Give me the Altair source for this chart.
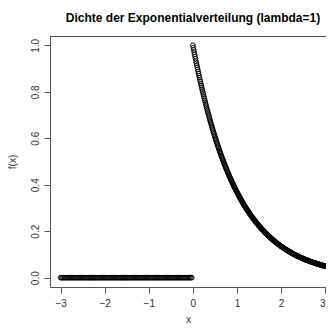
import altair as alt
import pandas as pd

# x < 0 : density is 0
x_neg = [-3.000, -2.975, -2.950, -2.925, -2.900, -2.875, -2.850, -2.825, -2.800, -2.775,
         -2.750, -2.725, -2.700, -2.675, -2.650, -2.625, -2.600, -2.575, -2.550, -2.525,
         -2.500, -2.475, -2.450, -2.425, -2.400, -2.375, -2.350, -2.325, -2.300, -2.275,
         -2.250, -2.225, -2.200, -2.175, -2.150, -2.125, -2.100, -2.075, -2.050, -2.025,
         -2.000, -1.975, -1.950, -1.925, -1.900, -1.875, -1.850, -1.825, -1.800, -1.775,
         -1.750, -1.725, -1.700, -1.675, -1.650, -1.625, -1.600, -1.575, -1.550, -1.525,
         -1.500, -1.475, -1.450, -1.425, -1.400, -1.375, -1.350, -1.325, -1.300, -1.275,
         -1.250, -1.225, -1.200, -1.175, -1.150, -1.125, -1.100, -1.075, -1.050, -1.025,
         -1.000, -0.975, -0.950, -0.925, -0.900, -0.875, -0.850, -0.825, -0.800, -0.775,
         -0.750, -0.725, -0.700, -0.675, -0.650, -0.625, -0.600, -0.575, -0.550, -0.525,
         -0.500, -0.475, -0.450, -0.425, -0.400, -0.375, -0.350, -0.325, -0.300, -0.275,
         -0.250, -0.225, -0.200, -0.175, -0.150, -0.125, -0.100, -0.075, -0.050, -0.025]
y_neg = [0.0, 0.0, 0.0, 0.0, 0.0, 0.0, 0.0, 0.0, 0.0, 0.0,
         0.0, 0.0, 0.0, 0.0, 0.0, 0.0, 0.0, 0.0, 0.0, 0.0,
         0.0, 0.0, 0.0, 0.0, 0.0, 0.0, 0.0, 0.0, 0.0, 0.0,
         0.0, 0.0, 0.0, 0.0, 0.0, 0.0, 0.0, 0.0, 0.0, 0.0,
         0.0, 0.0, 0.0, 0.0, 0.0, 0.0, 0.0, 0.0, 0.0, 0.0,
         0.0, 0.0, 0.0, 0.0, 0.0, 0.0, 0.0, 0.0, 0.0, 0.0,
         0.0, 0.0, 0.0, 0.0, 0.0, 0.0, 0.0, 0.0, 0.0, 0.0,
         0.0, 0.0, 0.0, 0.0, 0.0, 0.0, 0.0, 0.0, 0.0, 0.0,
         0.0, 0.0, 0.0, 0.0, 0.0, 0.0, 0.0, 0.0, 0.0, 0.0,
         0.0, 0.0, 0.0, 0.0, 0.0, 0.0, 0.0, 0.0, 0.0, 0.0,
         0.0, 0.0, 0.0, 0.0, 0.0, 0.0, 0.0, 0.0, 0.0, 0.0,
         0.0, 0.0, 0.0, 0.0, 0.0, 0.0, 0.0, 0.0, 0.0, 0.0]

# x >= 0, even hundredths
x_pos = [0.00, 0.02, 0.04, 0.06, 0.08, 0.10, 0.12, 0.14, 0.16, 0.18,
         0.20, 0.22, 0.24, 0.26, 0.28, 0.30, 0.32, 0.34, 0.36, 0.38,
         0.40, 0.42, 0.44, 0.46, 0.48, 0.50, 0.52, 0.54, 0.56, 0.58,
         0.60, 0.62, 0.64, 0.66, 0.68, 0.70, 0.72, 0.74, 0.76, 0.78,
         0.80, 0.82, 0.84, 0.86, 0.88, 0.90, 0.92, 0.94, 0.96, 0.98,
         1.00, 1.02, 1.04, 1.06, 1.08, 1.10, 1.12, 1.14, 1.16, 1.18,
         1.20, 1.22, 1.24, 1.26, 1.28, 1.30, 1.32, 1.34, 1.36, 1.38,
         1.40, 1.42, 1.44, 1.46, 1.48, 1.50, 1.52, 1.54, 1.56, 1.58,
         1.60, 1.62, 1.64, 1.66, 1.68, 1.70, 1.72, 1.74, 1.76, 1.78,
         1.80, 1.82, 1.84, 1.86, 1.88, 1.90, 1.92, 1.94, 1.96, 1.98,
         2.00, 2.02, 2.04, 2.06, 2.08, 2.10, 2.12, 2.14, 2.16, 2.18,
         2.20, 2.22, 2.24, 2.26, 2.28, 2.30, 2.32, 2.34, 2.36, 2.38,
         2.40, 2.42, 2.44, 2.46, 2.48, 2.50, 2.52, 2.54, 2.56, 2.58,
         2.60, 2.62, 2.64, 2.66, 2.68, 2.70, 2.72, 2.74, 2.76, 2.78,
         2.80, 2.82, 2.84, 2.86, 2.88, 2.90, 2.92, 2.94, 2.96, 2.98,
         3.00]
y_pos = [1.000, 0.980, 0.961, 0.942, 0.923, 0.905, 0.887, 0.869, 0.852, 0.835,
         0.819, 0.803, 0.787, 0.771, 0.756, 0.741, 0.726, 0.712, 0.698, 0.684,
         0.670, 0.657, 0.644, 0.631, 0.619, 0.607, 0.595, 0.583, 0.571, 0.560,
         0.549, 0.538, 0.527, 0.517, 0.507, 0.497, 0.487, 0.477, 0.468, 0.458,
         0.449, 0.440, 0.432, 0.423, 0.415, 0.407, 0.399, 0.391, 0.383, 0.375,
         0.368, 0.361, 0.353, 0.346, 0.340, 0.333, 0.326, 0.320, 0.313, 0.307,
         0.301, 0.295, 0.289, 0.284, 0.278, 0.273, 0.267, 0.262, 0.257, 0.252,
         0.247, 0.242, 0.237, 0.232, 0.228, 0.223, 0.219, 0.214, 0.210, 0.206,
         0.202, 0.198, 0.194, 0.190, 0.186, 0.183, 0.179, 0.176, 0.172, 0.169,
         0.165, 0.162, 0.159, 0.156, 0.153, 0.150, 0.147, 0.144, 0.141, 0.138,
         0.135, 0.133, 0.130, 0.127, 0.125, 0.122, 0.120, 0.118, 0.115, 0.113,
         0.111, 0.109, 0.106, 0.104, 0.102, 0.100, 0.098, 0.096, 0.094, 0.093,
         0.091, 0.089, 0.087, 0.085, 0.084, 0.082, 0.080, 0.079, 0.077, 0.076,
         0.074, 0.073, 0.071, 0.070, 0.069, 0.067, 0.066, 0.065, 0.063, 0.062,
         0.061, 0.060, 0.058, 0.057, 0.056, 0.055, 0.054, 0.053, 0.052, 0.051,
         0.050]

# x >= 0, odd hundredths
x_pos2 = [0.01, 0.03, 0.05, 0.07, 0.09, 0.11, 0.13, 0.15, 0.17, 0.19,
          0.21, 0.23, 0.25, 0.27, 0.29, 0.31, 0.33, 0.35, 0.37, 0.39,
          0.41, 0.43, 0.45, 0.47, 0.49, 0.51, 0.53, 0.55, 0.57, 0.59,
          0.61, 0.63, 0.65, 0.67, 0.69, 0.71, 0.73, 0.75, 0.77, 0.79,
          0.81, 0.83, 0.85, 0.87, 0.89, 0.91, 0.93, 0.95, 0.97, 0.99,
          1.01, 1.03, 1.05, 1.07, 1.09, 1.11, 1.13, 1.15, 1.17, 1.19,
          1.21, 1.23, 1.25, 1.27, 1.29, 1.31, 1.33, 1.35, 1.37, 1.39,
          1.41, 1.43, 1.45, 1.47, 1.49, 1.51, 1.53, 1.55, 1.57, 1.59,
          1.61, 1.63, 1.65, 1.67, 1.69, 1.71, 1.73, 1.75, 1.77, 1.79,
          1.81, 1.83, 1.85, 1.87, 1.89, 1.91, 1.93, 1.95, 1.97, 1.99,
          2.01, 2.03, 2.05, 2.07, 2.09, 2.11, 2.13, 2.15, 2.17, 2.19,
          2.21, 2.23, 2.25, 2.27, 2.29, 2.31, 2.33, 2.35, 2.37, 2.39,
          2.41, 2.43, 2.45, 2.47, 2.49, 2.51, 2.53, 2.55, 2.57, 2.59,
          2.61, 2.63, 2.65, 2.67, 2.69, 2.71, 2.73, 2.75, 2.77, 2.79,
          2.81, 2.83, 2.85, 2.87, 2.89, 2.91, 2.93, 2.95, 2.97, 2.99]
y_pos2 = [0.990, 0.970, 0.951, 0.932, 0.914, 0.896, 0.878, 0.861, 0.844, 0.827,
          0.811, 0.795, 0.779, 0.763, 0.748, 0.733, 0.719, 0.705, 0.691, 0.677,
          0.664, 0.651, 0.638, 0.625, 0.613, 0.600, 0.589, 0.577, 0.566, 0.554,
          0.543, 0.533, 0.522, 0.512, 0.502, 0.492, 0.482, 0.472, 0.463, 0.454,
          0.445, 0.436, 0.427, 0.419, 0.411, 0.403, 0.395, 0.387, 0.379, 0.372,
          0.364, 0.357, 0.350, 0.343, 0.336, 0.330, 0.323, 0.317, 0.310, 0.304,
          0.298, 0.292, 0.287, 0.281, 0.275, 0.270, 0.264, 0.259, 0.254, 0.249,
          0.244, 0.239, 0.235, 0.230, 0.225, 0.221, 0.217, 0.212, 0.208, 0.204,
          0.200, 0.196, 0.192, 0.188, 0.185, 0.181, 0.177, 0.174, 0.170, 0.167,
          0.164, 0.160, 0.157, 0.154, 0.151, 0.148, 0.145, 0.142, 0.139, 0.137,
          0.134, 0.131, 0.129, 0.126, 0.124, 0.121, 0.119, 0.116, 0.114, 0.112,
          0.110, 0.108, 0.105, 0.103, 0.101, 0.099, 0.097, 0.095, 0.093, 0.092,
          0.090, 0.088, 0.086, 0.085, 0.083, 0.081, 0.080, 0.078, 0.077, 0.075,
          0.074, 0.072, 0.071, 0.069, 0.068, 0.067, 0.065, 0.064, 0.063, 0.061,
          0.060, 0.059, 0.058, 0.057, 0.056, 0.054, 0.053, 0.052, 0.051, 0.050]

x_ticks = [-3, -2, -1, 0, 1, 2, 3]
y_ticks = [0.0, 0.2, 0.4, 0.6, 0.8, 1.0]

df = pd.DataFrame({"x": x_neg + x_pos + x_pos2, "y": y_neg + y_pos + y_pos2})

FONT = "Liberation Sans"
AX = "#555555"
W, H = 276, 251

points = alt.Chart(df).mark_point(
    shape="circle", filled=False, size=22, strokeWidth=0.9, color="black",
    opacity=1, clip=False
).encode(
    x=alt.X("x:Q", scale=alt.Scale(domain=[-3.24, 3.019], nice=False, zero=False),
            axis=alt.Axis(values=x_ticks, format="d", title="x", grid=False,
                          domainColor=AX, tickColor=AX, tickSize=6,
                          labelPadding=5, labelFontSize=10, labelColor="#333333",
                          labelFont=FONT, titleFont=FONT, titleFontSize=10,
                          titleFontWeight="normal", titleColor="#333333",
                          titlePadding=6, labelFlush=False,
                          labelOffset={"condition": {"test": "datum.value == 3", "value": -3},
                                       "value": 0})),
    y=alt.Y("y:Q", scale=alt.Scale(domain=[-0.04, 1.04], nice=False, zero=False),
            axis=alt.Axis(values=y_ticks, format=".1f", title="f(x)", grid=False,
                          domainColor=AX, tickColor=AX, tickSize=6,
                          labelAngle=270, labelAlign="center", labelBaseline="bottom",
                          labelPadding=4, labelFontSize=10, labelColor="#333333",
                          labelFont=FONT, titleFont=FONT, titleFontSize=10,
                          titleFontWeight="normal", titleColor="#333333",
                          titlePadding=13, labelFlush=False)),
)

top_border = alt.Chart(df).mark_rule(color=AX, strokeWidth=1).encode(
    x=alt.value(0), x2=alt.value(W), y=alt.value(0.5)
)

chart = alt.layer(points, top_border).properties(
    width=W, height=H,
    title=alt.TitleParams("Dichte der Exponentialverteilung (lambda=1)",
                          font=FONT, fontSize=12, fontWeight="bold",
                          color="black", anchor="middle", offset=11, dx=5),
    autosize=alt.AutoSizeParams(type="none"),
    padding={"left": 42, "top": 28, "right": 0, "bottom": 39},
).configure_view(stroke=None)

chart.save("out.html", embed_options={"renderer": "svg", "actions": False})
